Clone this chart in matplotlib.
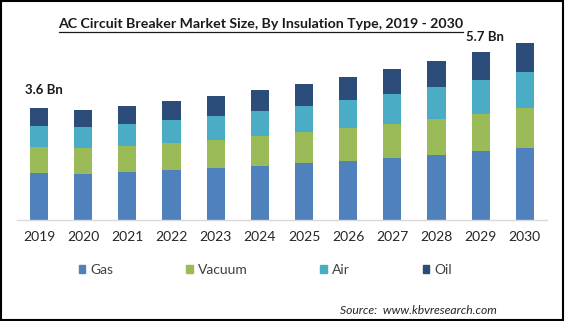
import numpy as np
import matplotlib
matplotlib.use('Agg')
import matplotlib.pyplot as plt
import matplotlib.patches as mpatches

plt.rcParams['font.family'] = ['Lato', 'DejaVu Sans']

# Market size by insulation type (USD Bn)
years = ['2019', '2020', '2021', '2022', '2023', '2024',
         '2025', '2026', '2027', '2028', '2029', '2030']
gas = [1.50, 1.48, 1.54, 1.61, 1.66, 1.74, 1.82, 1.90, 1.99, 2.08, 2.22, 2.31]
vacuum = [0.84, 0.83, 0.84, 0.87, 0.91, 0.96, 1.01, 1.05, 1.08, 1.17, 1.19, 1.29]
air = [0.68, 0.68, 0.71, 0.74, 0.77, 0.80, 0.84, 0.91, 0.97, 1.03, 1.09, 1.17]
oil = [0.58, 0.56, 0.58, 0.61, 0.64, 0.67, 0.71, 0.74, 0.80, 0.84, 0.90, 0.91]

series = [('Gas', gas, '#4f81bd'),
          ('Vacuum', vacuum, '#9bbb59'),
          ('Air', air, '#4bacc6'),
          ('Oil', oil, '#2c4d7a')]

fig = plt.figure(figsize=(5.65, 3.21), dpi=100)
ax = fig.add_axes([0.030, 0.3146, 0.938, 0.5607])

x = np.arange(len(years))
bottom = np.zeros(len(years))
handles = []
for name, vals, c in series:
    ax.bar(x, vals, width=0.41, bottom=bottom, color=c, zorder=2)
    bottom += np.array(vals)
    handles.append(mpatches.Patch(color=c, label=name))

ax.set_xlim(-0.5, len(years) - 0.5)
ax.set_ylim(0, 5.785)
ax.set_xticks(x)
ax.set_xticklabels(years, fontsize=10, color='#262626')
ax.tick_params(axis='x', length=0, pad=8)
ax.set_yticks([])
for s in ['top', 'right', 'left']:
    ax.spines[s].set_visible(False)
ax.spines['bottom'].set_color('#d9d9d9')
ax.spines['bottom'].set_linewidth(1)

# Totals for first and last year
ax.annotate('%.1f Bn' % bottom[0], xy=(x[0], bottom[0]), xytext=(-10, 8.5),
            textcoords='offset points', fontsize=9.5, fontweight='bold',
            ha='left', va='bottom', color='#1a1a1a')
ax.annotate('%.1f Bn' % bottom[-1], xy=(x[-1], bottom[-1]), xytext=(-29, 0.5),
            textcoords='offset points', fontsize=9.5, fontweight='bold',
            ha='center', va='bottom', color='#1a1a1a')

fig.text(0.462, 0.925, 'AC Circuit Breaker Market Size, By Insulation Type, 2019 - 2030',
         ha='center', va='center', fontsize=10.2, fontweight='bold', color='#1a1a1a')
fig.add_artist(plt.Line2D([0.104, 0.819], [0.900, 0.900], color='#1a1a1a', lw=0.9))

fig.legend(handles=handles, loc='center', bbox_to_anchor=(0.470, 0.159), ncol=4,
           frameon=False, fontsize=10, handlelength=0.45, handleheight=0.45,
           handletextpad=0.4, columnspacing=5.23, labelcolor='#404040')

fig.text(0.88, 0.032, 'Source:  www.kbvresearch.com', ha='right', va='center',
         fontsize=8.7, style='italic', color='#262626')

# Outer frame
fig.add_artist(mpatches.Rectangle((0.002, 0.004), 0.994, 0.992, fill=False,
                                  edgecolor='black', lw=1.5, transform=fig.transFigure))

fig.savefig('out.png', dpi=100)
